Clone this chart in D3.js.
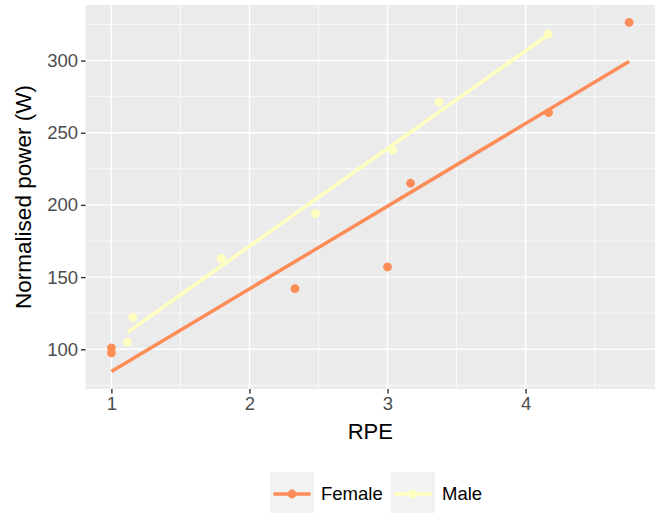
<!DOCTYPE html>
<html>
<head>
<meta charset="utf-8">
<script src="https://cdn.jsdelivr.net/npm/d3@7"></script>
<style>
  body { margin: 0; background: #fff; }
  text { font-family: "Liberation Sans", Arial, sans-serif; }
</style>
</head>
<body>
<div id="chart"></div>
<script>
const width = 657,
  height = 513;

// RPE vs normalised power
const femaleRPE = [1, 1, 2.33, 3, 3.167, 4.167, 4.75];
const femalePower = [101, 97.5, 142, 157, 215, 264, 326.4];
const maleRPE = [1.117, 1.156, 1.796, 2.477, 3.038, 3.375, 4.165];
const malePower = [105, 122, 163, 194, 238, 271, 318.4];

const groups = ["Female", "Male"];
const colors = ["#FC8D59", "#FFFFBF"];
const xTicks = [1, 2, 3, 4];
const yTicks = [100, 150, 200, 250, 300];

const series = [
  { name: "Female", xs: femaleRPE, ys: femalePower },
  { name: "Male", xs: maleRPE, ys: malePower }
];

// ordinary least squares like geom_smooth(method = "lm")
function fit(xs, ys) {
  const mx = d3.mean(xs), my = d3.mean(ys);
  const sxy = d3.sum(xs, (x, i) => (x - mx) * (ys[i] - my));
  const sxx = d3.sum(xs, x => (x - mx) * (x - mx));
  const b = sxy / sxx, a = my - b * mx;
  const [x0, x1] = d3.extent(xs);
  return [[x0, a + b * x0], [x1, a + b * x1]];
}
series.forEach(s => s.line = fit(s.xs, s.ys));

const color = d3.scaleOrdinal().domain(groups).range(colors);

const panel = { left: 85.5, right: 655, top: 5, bottom: 389 };

function expand([a, b]) {
  const e = (b - a) * 0.05;
  return [a - e, b + e];
}
const allX = series.flatMap(s => s.xs);
const allY = series.flatMap(s => s.ys.concat(s.line.map(p => p[1])));

const x = d3.scaleLinear().domain(expand(d3.extent(allX))).range([panel.left, panel.right]);
const y = d3.scaleLinear().domain(expand(d3.extent(allY))).range([panel.bottom, panel.top]);

const svg = d3.select("#chart")
  .append("svg")
  .attr("width", width)
  .attr("height", height);

svg.append("rect")
  .attr("x", panel.left)
  .attr("y", panel.top)
  .attr("width", panel.right - panel.left)
  .attr("height", panel.bottom - panel.top)
  .attr("fill", "#EBEBEB");

// minor grid
const xMinor = xTicks.map(t => t + 0.5).filter(t => t < x.domain()[1]);
const yMinor = yTicks.map(t => t - 25).concat([d3.max(yTicks) + 25]).filter(t => t > y.domain()[0] && t < y.domain()[1]);

const grid = svg.append("g");
grid.selectAll(".xminor")
  .data(xMinor)
  .join("line")
  .attr("x1", d => x(d)).attr("x2", d => x(d))
  .attr("y1", panel.top).attr("y2", panel.bottom)
  .attr("stroke", "#fff").attr("stroke-width", 0.7);
grid.selectAll(".yminor")
  .data(yMinor)
  .join("line")
  .attr("class", "yminor")
  .attr("y1", d => y(d)).attr("y2", d => y(d))
  .attr("x1", panel.left).attr("x2", panel.right)
  .attr("stroke", "#fff").attr("stroke-width", 0.7);
grid.selectAll(".xmajor")
  .data(xTicks)
  .join("line")
  .attr("class", "xmajor")
  .attr("x1", d => x(d)).attr("x2", d => x(d))
  .attr("y1", panel.top).attr("y2", panel.bottom)
  .attr("stroke", "#fff").attr("stroke-width", 1.4);
grid.selectAll(".ymajor")
  .data(yTicks)
  .join("line")
  .attr("class", "ymajor")
  .attr("y1", d => y(d)).attr("y2", d => y(d))
  .attr("x1", panel.left).attr("x2", panel.right)
  .attr("stroke", "#fff").attr("stroke-width", 1.4);

// axes
const xAxis = svg.append("g")
  .attr("transform", `translate(0,${panel.bottom})`)
  .call(d3.axisBottom(x).tickValues(xTicks).tickSize(4.5).tickPadding(3).tickFormat(d3.format("d")));
const yAxis = svg.append("g")
  .attr("transform", `translate(${panel.left},0)`)
  .call(d3.axisLeft(y).tickValues(yTicks).tickSize(4.5).tickPadding(3).tickFormat(d3.format("d")));
[xAxis, yAxis].forEach(g => {
  g.select(".domain").remove();
  g.selectAll(".tick line").attr("stroke", "#333").attr("stroke-width", 1.4);
  g.selectAll(".tick text")
    .attr("fill", "#4D4D4D")
    .style("font-size", "18.5px")
    .style("font-family", "'Liberation Sans', Arial, sans-serif");
});

// points
svg.append("g")
  .selectAll("g")
  .data(series)
  .join("g")
  .attr("fill", d => color(d.name))
  .selectAll("circle")
  .data(d => d.xs.map((v, i) => [v, d.ys[i]]))
  .join("circle")
  .attr("cx", d => x(d[0]))
  .attr("cy", d => y(d[1]))
  .attr("r", 4.4);

// fitted lines
const line = d3.line().x(d => x(d[0])).y(d => y(d[1]));
svg.append("g")
  .selectAll("path")
  .data(series)
  .join("path")
  .attr("d", d => line(d.line))
  .attr("fill", "none")
  .attr("stroke", d => color(d.name))
  .attr("stroke-width", 3.5);

// axis titles
svg.append("text")
  .attr("x", (panel.left + panel.right) / 2)
  .attr("y", 439)
  .attr("text-anchor", "middle")
  .style("font-size", "22px")
  .text("RPE");

svg.append("text")
  .attr("transform", `translate(31,${(panel.top + panel.bottom) / 2}) rotate(-90)`)
  .attr("text-anchor", "middle")
  .style("font-size", "22.5px")
  .text("Normalised power (W)");

// legend
const legendX = [270, 391];
const legend = svg.append("g")
  .selectAll("g")
  .data(groups)
  .join("g")
  .attr("transform", (d, i) => `translate(${legendX[i]},472)`);
legend.append("rect")
  .attr("width", 44)
  .attr("height", 41)
  .attr("fill", "#F2F2F2");
legend.append("line")
  .attr("x1", 3.5).attr("x2", 40.5)
  .attr("y1", 22).attr("y2", 22)
  .attr("stroke", d => color(d))
  .attr("stroke-width", 3.5);
legend.append("circle")
  .attr("cx", 22).attr("cy", 22).attr("r", 4.4)
  .attr("fill", d => color(d));
legend.append("text")
  .attr("x", 51)
  .attr("y", 22)
  .attr("dy", "0.35em")
  .style("font-size", "18.5px")
  .text(d => d);
</script>
</body>
</html>
